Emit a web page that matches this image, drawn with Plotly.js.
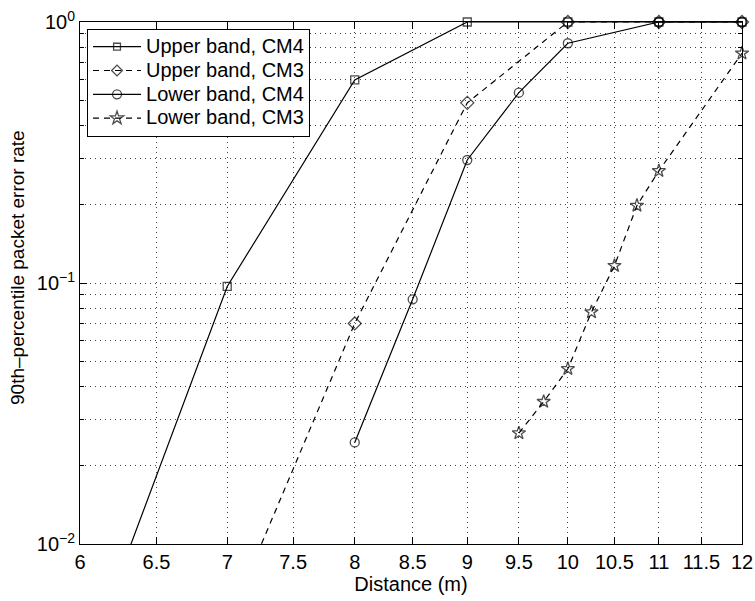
<!DOCTYPE html>
<html>
<head>
<meta charset="utf-8">
<script src="https://cdn.plot.ly/plotly-3.0.1.min.js"></script>
<style>html,body{margin:0;padding:0;background:#fff;}#plot{width:755px;height:601px;}</style>
</head>
<body>
<div id="plot"></div>
<script>
// Distance (m) and 90th-percentile packet error rate
const ucm4X = [6, 7, 8, 9, 10, 11, 12];
const ucm4Y = [0.003, 0.097, 0.6, 1, 1, 1, 1];
const ucm3X = [7, 8, 9, 10, 11, 12];
const ucm3Y = [0.0049, 0.070, 0.49, 1, 1, 1];
const lcm4X = [8, 8.5, 9, 9.5, 10, 11, 12];
const lcm4Y = [0.0245, 0.0866, 0.296, 0.536, 0.829, 1, 1];
const lcm3X = [9.5, 9.75, 10, 10.25, 10.5, 10.75, 11, 12];
const lcm3Y = [0.0266, 0.0351, 0.0469, 0.0774, 0.1165, 0.198, 0.269, 0.759];
const seriesNames = ['Upper band, CM4', 'Upper band, CM3', 'Lower band, CM4', 'Lower band, CM3'];

const xTicks = [6, 6.5, 7, 7.5, 8, 8.5, 9, 9.5, 10, 10.5, 11, 11.5, 12];
const yTicks = [0.01, 0.1, 1];
const yTickText = ['10<sup>\u22122</sup>', '10<sup>\u22121</sup>', '10<sup>0</sup>'];
const yMinor = [0.02,0.03,0.04,0.05,0.06,0.07,0.08,0.09,0.2,0.3,0.4,0.5,0.6,0.7,0.8,0.9];
const xTitle = 'Distance (m)';
const yTitle = '90th\u2013percentile packet error rate';

const FONT = 'Liberation Sans, Arial, Helvetica, sans-serif';
const yMin = 0.01;
function sizes(ys, s) { return ys.map(v => v >= yMin ? s : 0); }

function tr(x, y, name, dash, symbol, msize) {
  return {
    x: x, y: y, name: '<span style="font-size:20px">' + name + '</span>',
    type: 'scatter', mode: 'lines+markers',
    cliponaxis: false,
    line: {color: 'black', width: 1.2, dash: dash},
    marker: {symbol: symbol, size: sizes(y, msize), color: 'black', line: {color: 'black', width: 1.3}}
  };
}

const data = [
  tr(ucm4X, ucm4Y, seriesNames[0], 'solid', 'square-open', 8),
  tr(ucm3X, ucm3Y, seriesNames[1], '6px,5px', 'diamond-open', 10),
  tr(lcm4X, lcm4Y, seriesNames[2], 'solid', 'circle-open', 9),
  tr(lcm3X, lcm3Y, seriesNames[3], '6px,5px', 'star-open', 10)
];

const gridStyle = {gridcolor: '#444', griddash: '1px,4px', gridwidth: 1};

const layout = {
  width: 755, height: 601,
  margin: {l: 80, r: 13, t: 22, b: 57, pad: 0},
  paper_bgcolor: '#fff', plot_bgcolor: '#fff',
  font: {family: FONT, size: 20, color: 'black'},
  showlegend: true,
  legend: {
    x: 0.0106, y: 0.987, xanchor: 'left', yanchor: 'top',
    bgcolor: '#fff', bordercolor: 'black', borderwidth: 1,
    font: {family: FONT, size: 16, color: 'black'},
    tracegroupgap: 0, itemwidth: 48
  },
  xaxis: Object.assign({
    type: 'log',
    range: [Math.log10(6), Math.log10(12)],
    tickmode: 'array', tickvals: xTicks, ticktext: xTicks.map(String),
    ticks: 'inside', ticklen: 7, tickcolor: 'black', tickwidth: 1,
    showline: true, linecolor: 'black', linewidth: 1, mirror: 'allticks',
    showgrid: true, zeroline: false,
    tickfont: {family: FONT, size: 20, color: 'black'},
    title: {text: xTitle, font: {family: FONT, size: 20, color: 'black'}, standoff: 4}
  }, gridStyle),
  yaxis: Object.assign({
    type: 'log',
    range: [-2, 0],
    tickmode: 'array', tickvals: yTicks, ticktext: yTickText,
    ticks: 'inside', ticklen: 7, tickcolor: 'black', tickwidth: 1,
    showline: true, linecolor: 'black', linewidth: 1, mirror: 'allticks',
    showgrid: true, zeroline: false,
    tickfont: {family: FONT, size: 20, color: 'black'},
    minor: {tickmode: 'array', tickvals: yMinor, ticks: 'inside', ticklen: 4, tickcolor: 'black',
            showgrid: true, gridcolor: '#444', griddash: '1px,4px', gridwidth: 1}
  }, gridStyle),
  annotations: [{
    text: yTitle, xref: 'paper', yref: 'paper', x: -0.0937, y: 0.5307,
    xanchor: 'center', yanchor: 'middle', textangle: -90, showarrow: false,
    font: {family: FONT, size: 19, color: 'black'}
  }]
};

Plotly.newPlot('plot', data, layout, {staticPlot: true, displayModeBar: false});
</script>
</body>
</html>
